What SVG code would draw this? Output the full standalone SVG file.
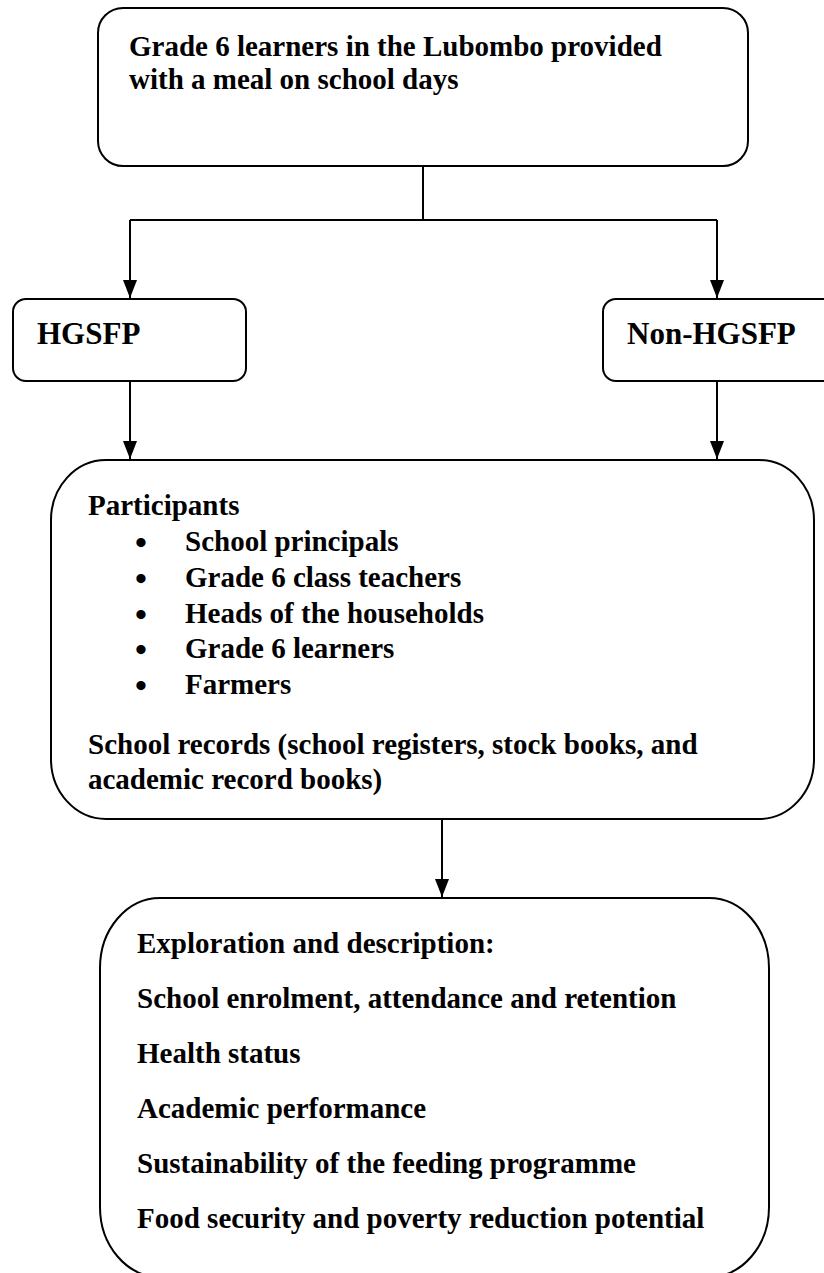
<svg xmlns="http://www.w3.org/2000/svg" width="824" height="1273" viewBox="0 0 824 1273">
<style>
.box{fill:#fff;stroke:#000;stroke-width:2}
.t{font-family:"Liberation Serif","Times New Roman",serif;font-weight:bold;font-size:29px;fill:#000}
.big{font-size:31px}
.b{font-size:34px}
.c{fill:none;stroke:#000;stroke-width:2}
</style>
<defs>
<marker id="arr" markerWidth="18" markerHeight="14" refX="18" refY="7" orient="auto" markerUnits="userSpaceOnUse" viewBox="0 0 18 14">
<path d="M0,0 L18,7 L0,14 Z" fill="#000"/>
</marker>
</defs>
<rect width="824" height="1273" fill="#fff"/>
<g id="connectors">
<path class="c" d="M423,166 V220"/>
<path class="c" d="M130,220 H717"/>
<path class="c" d="M130,220 V298" marker-end="url(#arr)"/>
<path class="c" d="M717,220 V298" marker-end="url(#arr)"/>
<path class="c" d="M130,381 V459" marker-end="url(#arr)"/>
<path class="c" d="M717,381 V459" marker-end="url(#arr)"/>
<path class="c" d="M442,819 V897" marker-end="url(#arr)"/>
</g>
<g id="node-top">
<rect class="box" x="98" y="8" width="650" height="158" rx="25" ry="25"/>
<text class="t" x="129" y="56">Grade 6 learners in the Lubombo provided</text>
<text class="t" x="129" y="89">with a meal on school days</text>
</g>
<g id="node-hgsfp">
<rect class="box" x="13" y="299" width="233" height="82" rx="13" ry="13"/>
<text class="t big" x="37" y="344">HGSFP</text>
</g>
<g id="node-nonhgsfp">
<rect class="box" x="603" y="299" width="240" height="82" rx="13" ry="13"/>
<text class="t big" x="627" y="344">Non-HGSFP</text>
</g>
<g id="node-participants">
<rect class="box" x="51" y="460" width="763" height="359" rx="55" ry="60"/>
<text class="t" x="88" y="515">Participants</text>
<text class="t b" x="135" y="554">•</text>
<text class="t" x="185" y="551">School principals</text>
<text class="t b" x="135" y="590">•</text>
<text class="t" x="185" y="587">Grade 6 class teachers</text>
<text class="t b" x="135" y="626">•</text>
<text class="t" x="185" y="623">Heads of the households</text>
<text class="t b" x="135" y="661">•</text>
<text class="t" x="185" y="658">Grade 6 learners</text>
<text class="t b" x="135" y="697">•</text>
<text class="t" x="185" y="694">Farmers</text>
<text class="t" x="88" y="754">School records (school registers, stock books, and</text>
<text class="t" x="88" y="789">academic record books)</text>
</g>
<g id="node-outcomes">
<rect class="box" x="100" y="898" width="669" height="379" rx="60" ry="70"/>
<text class="t" x="137" y="953">Exploration and description:</text>
<text class="t" x="137" y="1008">School enrolment, attendance and retention</text>
<text class="t" x="137" y="1063">Health status</text>
<text class="t" x="137" y="1118">Academic performance</text>
<text class="t" x="137" y="1173">Sustainability of the feeding programme</text>
<text class="t" x="137" y="1228">Food security and poverty reduction potential</text>
</g>
</svg>
